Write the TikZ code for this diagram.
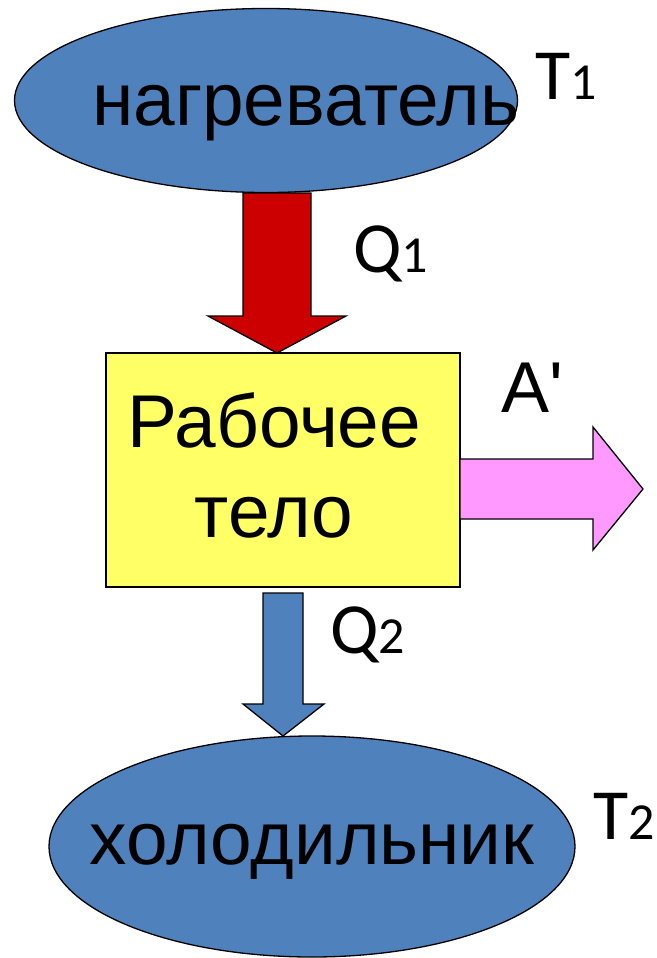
\documentclass[tikz,border=0pt]{standalone}
\usepackage{fontspec}
\setmainfont{Liberation Sans}
\newfontfamily\carl{Carlito}
\newfontfamily\plainf{Liberation Sans}
\usetikzlibrary{shapes.geometric}
\definecolor{bl}{RGB}{79,129,189}
\definecolor{rd}{RGB}{204,0,0}
\definecolor{yl}{RGB}{255,255,102}
\definecolor{pk}{RGB}{255,153,255}
\tikzset{x=1pt,y=-1pt,
 outl/.style={draw=black,line width=1.3pt,line join=miter},
 ell/.style={ellipse,outl,fill=bl,inner sep=0pt,anchor=center},
 lab/.style={inner sep=0pt,anchor=base west,text=black,font=\fontsize{74.8}{80}\selectfont},
 sym/.style={inner sep=0pt,anchor=base west,text=black,font=\carl\fontsize{72}{80}\selectfont}}
\newcommand{\sbs}[1]{{\fontsize{52}{54}\selectfont #1}}
\begin{document}
\begin{tikzpicture}
\useasboundingbox (0,0) rectangle (656,958);
\node[ell,minimum width=503,minimum height=184] (hot) at (266,100.5) {};
\node[ell,minimum width=526,minimum height=221] (cold) at (312,846.5) {};
\node[outl,fill=yl,rectangle,minimum width=354,minimum height=234,inner sep=0pt] (body) at (283,470) {};
\draw[outl,fill=rd] (243,193) -- (311,193) -- (311,316) -- (346,316) -- (277,353) -- (208,316) -- (243,316) -- cycle;
\draw[outl,fill=pk] (460,459) -- (593,459) -- (593,427) -- (643,489) -- (593,550) -- (593,519) -- (460,519) -- cycle;
\draw[outl,fill=bl] (263,593) -- (303,593) -- (303,704) -- (324,704) -- (283,736) -- (243,704) -- (263,704) -- cycle;
\node[lab] (t1) at (92,125) {нагреватель};
\node[lab] (t2) at (89.5,864) {холодильник};
\node[lab] (t3) at (127,447) {Рабочее};
\node[lab] (t4) at (194.5,537) {тело};
\node[sym] (a1) at (535,99.5) {T\sbs{1}};
\node[sym] (a2) at (353,272) {Q\sbs{1}};
\node[lab,font=\plainf\fontsize{72}{80}\selectfont] (a3) at (501,412) {A'};
\node[sym] (a4) at (330,653) {Q\sbs{2}};
\node[sym] (a5) at (593,839) {T\sbs{2}};
\end{tikzpicture}
\end{document}
